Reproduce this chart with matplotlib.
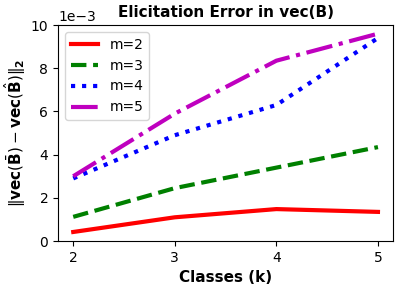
import matplotlib
matplotlib.use("Agg")
import matplotlib.pyplot as plt

classes = [2, 3, 4, 5]
err_m2 = [0.42e-3, 1.1e-3, 1.48e-3, 1.35e-3]
err_m3 = [1.12e-3, 2.45e-3, 3.4e-3, 4.35e-3]
err_m4 = [2.9e-3, 4.9e-3, 6.3e-3, 9.4e-3]
err_m5 = [3.0e-3, 5.9e-3, 8.35e-3, 9.6e-3]

fig = plt.figure(figsize=(4.0, 2.88), dpi=100)
ax = fig.add_axes([0.145, 0.163, 0.838, 0.75])

ax.plot(classes, err_m2, color="r", linestyle="-", linewidth=3, label="m=2")
ax.plot(classes, err_m3, color="g", linestyle="--", linewidth=3, label="m=3")
ax.plot(classes, err_m4, color="b", linestyle=":", linewidth=3, label="m=4")
ax.plot(classes, err_m5, color="m", linestyle="-.", linewidth=3, label="m=5")

ax.set_ylim(0, 0.010)
ax.set_xticks(classes)
# fixed 1e-3 offset, as in the original figure
ax.ticklabel_format(axis="y", style="sci", scilimits=(-3, -3))
ax.tick_params(labelsize=10)
ax.yaxis.get_offset_text().set_fontsize(10)
ax.set_title("Elicitation Error in vec(B)", fontsize=11, fontweight="bold")
ax.set_xlabel("Classes (k)", fontsize=11, fontweight="bold")
ax.set_ylabel(r"$\Vert \mathbf{vec}(\bar{\mathbf{B}}) - \mathbf{vec}(\hat{\mathbf{B}})\Vert_\mathbf{2}$",
              fontsize=11, labelpad=2)
ax.legend(loc="upper left", fontsize=10)

fig.savefig("out.png", dpi=100)
